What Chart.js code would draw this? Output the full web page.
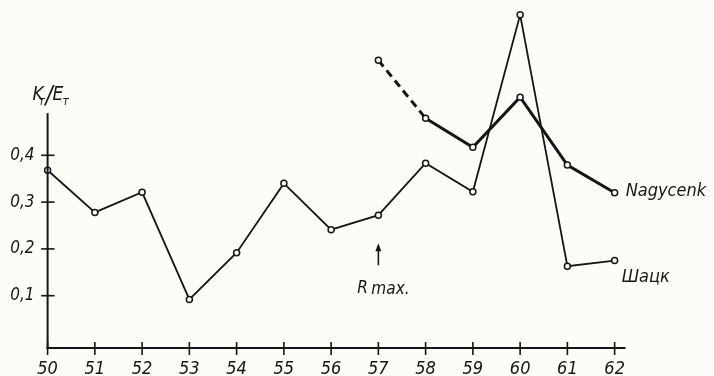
<!DOCTYPE html>
<html>
<head>
<meta charset="utf-8">
<script src="https://cdn.jsdelivr.net/npm/chart.js@4"></script>
<style>
  html, body { margin: 0; padding: 0; background: #fcfcf9; }
  #wrap { width: 714px; height: 376px; }
</style>
</head>
<body>
<div id="wrap"><canvas id="c" width="714" height="376"></canvas></div>
<script>
// Years on the horizontal axis (19xx)
const years = [50, 51, 52, 53, 54, 55, 56, 57, 58, 59, 60, 61, 62];
// K_т/E_т ratio, Шацк station
const shatskValues = [0.368, 0.278, 0.321, 0.092, 0.192, 0.340, 0.241, 0.272, 0.383, 0.322, 0.700, 0.163, 0.175];
// K_т/E_т ratio, Nagycenk station (57 -> 58 is an uncertain, dashed segment)
const nagycenkYears = [57, 58, 59, 60, 61, 62];
const nagycenkValues = [0.603, 0.479, 0.417, 0.524, 0.379, 0.320];
// Tick labels
const xTicks = years;
const yTicks = [0.1, 0.2, 0.3, 0.4];
// Solar maximum marker
const rMaxYear = 57;

const INK = '#161616';
const FONT = '"DejaVu Sans Condensed", "Liberation Sans Narrow", "Roboto Condensed", "Liberation Sans", sans-serif';

const toPoints = (xs, ys) => xs.map((x, i) => ({ x: x, y: ys[i] }));

// Axis lines, crossing tick marks and the text notes
const axesPlugin = {
  id: 'axesAndNotes',
  afterDatasetsDraw(chart) {
    const { ctx, chartArea } = chart;
    const xs = chart.scales.x, ys = chart.scales.y;
    const x0 = xs.getPixelForValue(years[0]);
    const yb = chartArea.bottom;
    ctx.save();
    ctx.strokeStyle = INK;
    ctx.fillStyle = INK;
    ctx.lineCap = 'butt';
    // y axis stops at 0.49
    const yTop = ys.getPixelForValue(0.49);
    ctx.lineWidth = 2;
    ctx.beginPath();
    ctx.moveTo(x0, yTop);
    ctx.lineTo(x0, yb + 1);
    ctx.stroke();
    // x axis
    ctx.beginPath();
    ctx.moveTo(x0 - 1, yb);
    ctx.lineTo(chartArea.right, yb);
    ctx.stroke();
    // tick marks
    ctx.lineWidth = 1.6;
    ys.ticks.forEach(t => {
      const p = ys.getPixelForValue(t.value);
      ctx.beginPath();
      ctx.moveTo(x0 - 6.5, p);
      ctx.lineTo(x0 + 7, p);
      ctx.stroke();
    });
    xs.ticks.forEach(t => {
      const p = xs.getPixelForValue(t.value);
      ctx.beginPath();
      ctx.moveTo(p, yb - 6);
      ctx.lineTo(p, yb + 7);
      ctx.stroke();
    });

    // axis title K_т / E_т
    ctx.textBaseline = 'alphabetic';
    ctx.textAlign = 'left';
    const bx = x0 - 15, by = yTop - 13;
    ctx.font = 'italic 19px ' + FONT;
    ctx.fillText('K', bx, by);
    ctx.font = 'italic 12px ' + FONT;
    ctx.fillText('т', bx + 6, by + 5);
    ctx.font = 'italic 24px ' + FONT;
    ctx.fillText('/', bx + 13, by + 3);
    ctx.font = 'italic 19px ' + FONT;
    ctx.fillText('E', bx + 20, by);
    ctx.font = 'italic 12px ' + FONT;
    ctx.fillText('т', bx + 30, by + 5);

    // series names next to the last points
    ctx.font = 'italic 18px ' + FONT;
    ctx.textBaseline = 'middle';
    const nLast = nagycenkValues.length - 1;
    ctx.fillText('Nagycenk', xs.getPixelForValue(nagycenkYears[nLast]) + 11,
                 ys.getPixelForValue(nagycenkValues[nLast]) - 1);
    const sLast = shatskValues.length - 1;
    ctx.fillText('Шацк', xs.getPixelForValue(years[sLast]) + 7,
                 ys.getPixelForValue(shatskValues[sLast]) + 17);

    // R max. arrow under 1957
    const ax = xs.getPixelForValue(rMaxYear);
    const tip = ys.getPixelForValue(0.212);
    const tail = ys.getPixelForValue(0.165);
    ctx.lineWidth = 1.6;
    ctx.beginPath();
    ctx.moveTo(ax, tail);
    ctx.lineTo(ax, tip + 4);
    ctx.stroke();
    ctx.beginPath();
    ctx.moveTo(ax, tip);
    ctx.lineTo(ax - 3, tip + 8);
    ctx.lineTo(ax + 3, tip + 8);
    ctx.closePath();
    ctx.fill();
    ctx.font = 'italic 17px ' + FONT;
    ctx.textBaseline = 'middle';
    ctx.fillText('R', ax - 21, ys.getPixelForValue(0.116));
    ctx.fillText('max.', ax - 7, ys.getPixelForValue(0.116) + 1);
    ctx.restore();
  }
};

new Chart(document.getElementById('c'), {
  type: 'line',
  data: {
    datasets: [
      {
        label: 'Шацк',
        data: toPoints(years, shatskValues),
        borderColor: INK,
        borderWidth: 1.8,
        pointRadius: 3,
        pointBorderWidth: 1.5,
        pointBackgroundColor: '#fcfcf9',
        pointBorderColor: INK,
        tension: 0,
        clip: false
      },
      {
        label: 'Nagycenk',
        data: toPoints(nagycenkYears, nagycenkValues),
        borderColor: INK,
        borderWidth: 3,
        pointRadius: 3,
        pointBorderWidth: 1.5,
        pointBackgroundColor: '#fcfcf9',
        pointBorderColor: INK,
        tension: 0,
        clip: false,
        segment: {
          borderDash: ctx => ctx.p0DataIndex === 0 ? [8, 5] : undefined
        }
      }
    ]
  },
  options: {
    responsive: false,
    animation: false,
    devicePixelRatio: 1,
    layout: { padding: { left: 0, right: 88.5, top: 3.4, bottom: 0 } },
    plugins: { legend: { display: false }, tooltip: { enabled: false } },
    scales: {
      x: {
        type: 'linear',
        min: 50,
        max: 62.23,
        grid: { display: false, drawTicks: false },
        border: { display: false },
        afterBuildTicks: s => { s.ticks = xTicks.map(v => ({ value: v })); },
        afterFit: s => { s.height = 28; s.paddingLeft = 0; s.paddingRight = 0; },
        ticks: {
          padding: 11,
          color: INK,
          font: { family: FONT, size: 18, style: 'italic' },
          callback: v => String(v)
        }
      },
      y: {
        type: 'linear',
        min: -0.0117,
        max: 0.72,
        grid: { display: false, drawTicks: false },
        border: { display: false },
        afterBuildTicks: s => { s.ticks = yTicks.map(v => ({ value: v })); },
        afterFit: s => { s.width = 47.6; s.paddingTop = 0; s.paddingBottom = 0; },
        ticks: {
          padding: 13,
          color: INK,
          font: { family: FONT, size: 17, style: 'italic' },
          callback: v => v.toFixed(1).replace('.', ',')
        }
      }
    }
  },
  plugins: [axesPlugin]
});
</script>
</body>
</html>
